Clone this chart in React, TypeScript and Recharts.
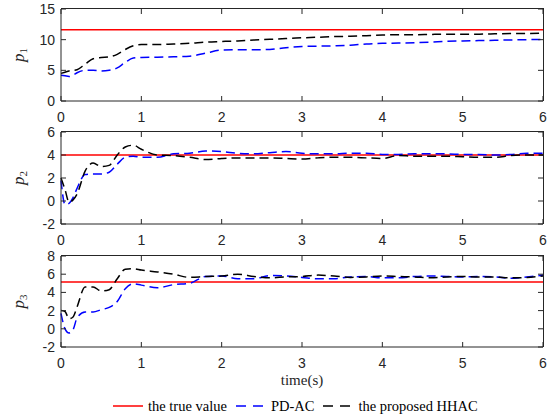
import { LineChart, Line, XAxis, YAxis, ReferenceLine } from 'recharts';

const time = [0, 0.05, 0.1, 0.15, 0.2, 0.3, 0.4, 0.5, 0.6, 0.7, 0.8, 0.9, 1.0, 1.2, 1.4, 1.6, 1.8, 2.0, 2.2, 2.4, 2.6, 2.8, 3.0, 3.2, 3.4, 3.6, 3.8, 4.0, 4.2, 4.4, 4.6, 4.8, 5.0, 5.2, 5.4, 5.6, 5.8, 6.0];
const timeTicks = [0, 1, 2, 3, 4, 5, 6];

const p1True = 11.6;
const p1Hhac = [4.5, 4.7, 4.9, 5.0, 5.1, 6.0, 6.9, 7.1, 7.2, 7.6, 8.4, 9.0, 9.2, 9.2, 9.3, 9.4, 9.6, 9.7, 9.8, 9.95, 10.05, 10.2, 10.3, 10.4, 10.5, 10.55, 10.65, 10.75, 10.8, 10.8, 10.85, 10.9, 10.9, 10.9, 10.95, 11.0, 11.0, 11.05];
const p1Pdac = [4.2, 4.1, 4.0, 4.2, 4.6, 5.0, 5.0, 4.9, 5.0, 5.4, 6.3, 7.0, 7.1, 7.15, 7.2, 7.3, 7.8, 8.3, 8.35, 8.35, 8.4, 8.7, 8.9, 8.95, 9.0, 9.1, 9.3, 9.4, 9.45, 9.5, 9.6, 9.75, 9.8, 9.85, 9.9, 9.95, 10.0, 10.05];
const p1Ticks = [0, 5, 10, 15];

const p2True = 4;
const p2Hhac = [2.0, 1.0, -0.1, 0.1, 0.6, 2.6, 3.3, 3.0, 3.1, 4.0, 4.7, 4.85, 4.5, 4.0, 3.95, 3.8, 3.6, 3.7, 3.75, 3.75, 3.75, 3.7, 3.65, 3.75, 3.8, 3.8, 3.75, 3.7, 3.95, 3.9, 3.9, 3.9, 3.85, 3.8, 3.8, 3.95, 4.0, 4.0];
const p2Pdac = [1.8, -0.3, -0.2, 0.3, 1.1, 2.3, 2.35, 2.35, 2.5, 3.2, 3.8, 3.9, 3.8, 3.8, 4.1, 4.15, 4.35, 4.3, 4.15, 4.1, 4.2, 4.3, 4.15, 4.1, 4.1, 4.15, 4.15, 4.05, 4.05, 4.1, 4.1, 4.1, 4.05, 4.05, 4.0, 4.05, 4.15, 4.15];
const p2Ticks = [-2, 0, 2, 4, 6];

const p3True = 5.15;
const p3Hhac = [2.0, 1.9, 1.1, 1.3, 2.4, 4.6, 4.6, 4.15, 4.3, 5.5, 6.55, 6.6, 6.45, 6.25, 6.0, 5.65, 5.75, 5.8, 6.0, 5.75, 5.6, 5.7, 5.75, 5.9, 5.8, 5.65, 5.7, 5.8, 5.75, 5.7, 5.6, 5.7, 5.75, 5.7, 5.7, 5.6, 5.65, 5.8];
const p3Pdac = [1.7, 0.0, -0.45, -0.1, 1.2, 1.85, 1.85, 2.1, 2.35, 3.0, 4.4, 4.95, 4.8, 4.5, 4.85, 5.0, 5.75, 5.8, 5.5, 5.5, 5.85, 5.8, 5.65, 5.5, 5.5, 5.7, 5.75, 5.6, 5.6, 5.75, 5.8, 5.75, 5.7, 5.75, 5.7, 5.55, 5.7, 5.9];
const p3Ticks = [-2, 0, 2, 4, 6, 8];

const AXIS = '#262626';
const SANS = '"Liberation Sans", Arial, sans-serif';
const SERIF = '"Liberation Serif", "Times New Roman", serif';
const DASH = '9 5';
const PLOT_LEFT = 61;
const PLOT_W = 482;

// bottom tick also draws the matching inward tick on the top edge of the box
const BottomTick = ({ x, y, payload, plotH }: any) => (
  <g>
    <path d={`M${x},${y}V${y - 5}M${x},${y - plotH}V${y - plotH + 5}`} stroke={AXIS} strokeWidth={1} fill="none" />
    <text x={x} y={y + 21} textAnchor="middle" fontSize={14} fill={AXIS} fontFamily={SANS}>
      {payload.value}
    </text>
  </g>
);

// left tick also draws the matching inward tick on the right edge
const LeftTick = ({ x, y, payload }: any) => (
  <g>
    <path d={`M${x},${y}H${x + 5}M${x + PLOT_W},${y}H${x + PLOT_W - 5}`} stroke={AXIS} strokeWidth={1} fill="none" />
    <text x={x - 6} y={y + 5} textAnchor="end" fontSize={14} fill={AXIS} fontFamily={SANS}>
      {payload.value}
    </text>
  </g>
);

const YLabel = ({ viewBox, sub }: any) => {
  const cy = viewBox.y + viewBox.height / 2;
  return (
    <text
      x={24}
      y={cy}
      transform={`rotate(-90, 24, ${cy})`}
      textAnchor="middle"
      fontFamily={SERIF}
      fontSize={17}
      fill={AXIS}
    >
      <tspan fontStyle="italic">p</tspan>
      <tspan fontSize={11} dy={3}>{sub}</tspan>
    </text>
  );
};

interface PanelProps {
  top: number;
  height: number;
  marginTop: number;
  hhac: number[];
  pdac: number[];
  trueValue: number;
  ticks: number[];
  sub: string;
}

// plot area: x 61..543, y marginTop .. height - 30
function Panel({ top, height, marginTop, hhac, pdac, trueValue, ticks, sub }: PanelProps) {
  const data = time.map((t, i) => ({ t, hhac: hhac[i], pdac: pdac[i] }));
  const domain = [ticks[0], ticks[ticks.length - 1]];
  const plotH = height - 30 - marginTop;
  return (
    <div style={{ position: 'absolute', left: 0, top, width: 553, height }}>
      <LineChart
        width={553}
        height={height}
        data={data}
        margin={{ top: marginTop, right: 10, bottom: 0, left: 16 }}
      >
        <XAxis
          dataKey="t"
          type="number"
          domain={[0, 6]}
          ticks={timeTicks}
          interval={0}
          height={30}
          tickSize={0}
          tickMargin={0}
          tickLine={false}
          axisLine={{ stroke: AXIS }}
          tick={<BottomTick plotH={plotH} />}
        />
        <YAxis
          type="number"
          domain={domain}
          ticks={ticks}
          interval={0}
          width={45}
          tickSize={0}
          tickMargin={0}
          tickLine={false}
          axisLine={{ stroke: AXIS }}
          tick={<LeftTick />}
          label={<YLabel sub={sub} />}
        />
        <ReferenceLine y={trueValue} stroke="#ff0000" strokeWidth={1.5} />
        <Line
          type="monotone"
          dataKey="pdac"
          stroke="#0000ff"
          strokeWidth={1.5}
          strokeDasharray={DASH}
          dot={false}
          isAnimationActive={false}
        />
        <Line
          type="monotone"
          dataKey="hhac"
          stroke="#000000"
          strokeWidth={1.5}
          strokeDasharray={DASH}
          dot={false}
          isAnimationActive={false}
        />
      </LineChart>
      {/* top and right edges of the axes box */}
      <div
        style={{
          position: 'absolute',
          left: PLOT_LEFT,
          top: marginTop - 1,
          width: PLOT_W + 1,
          height: plotH + 1,
          boxSizing: 'border-box',
          borderTop: `1px solid ${AXIS}`,
          borderRight: `1px solid ${AXIS}`,
          pointerEvents: 'none',
        }}
      />
    </div>
  );
}

const LegendItem = ({ color, dashed, label }: { color: string; dashed: boolean; label: string }) => (
  <div style={{ display: 'flex', alignItems: 'center', gap: 5 }}>
    <svg width={30} height={6}>
      <line x1={0} x2={30} y1={3} y2={3} stroke={color} strokeWidth={1.5} strokeDasharray={dashed ? '10 7' : undefined} />
    </svg>
    <span>{label}</span>
  </div>
);

export default function App() {
  return (
    <div style={{ position: 'fixed', left: 0, top: 0, width: 553, height: 418, background: '#fff', overflow: 'hidden' }}>
      <Panel top={0} height={131} marginTop={9} hhac={p1Hhac} pdac={p1Pdac} trueValue={p1True} ticks={p1Ticks} sub="1" />
      <Panel top={125} height={129} marginTop={7} hhac={p2Hhac} pdac={p2Pdac} trueValue={p2True} ticks={p2Ticks} sub="2" />
      <Panel top={249} height={128} marginTop={7} hhac={p3Hhac} pdac={p3Pdac} trueValue={p3True} ticks={p3Ticks} sub="3" />
      <div
        style={{
          position: 'absolute',
          left: 61,
          width: 482,
          top: 373,
          textAlign: 'center',
          fontFamily: SERIF,
          fontSize: 15,
          lineHeight: '15px',
          color: AXIS,
        }}
      >
        time(s)
      </div>
      <div
        style={{
          position: 'absolute',
          left: 113,
          top: 397,
          display: 'flex',
          alignItems: 'center',
          gap: 9,
          fontFamily: SERIF,
          fontSize: 14.5,
          lineHeight: '18px',
          color: '#000',
          whiteSpace: 'nowrap',
        }}
      >
        <LegendItem color="#ff0000" dashed={false} label="the true value" />
        <LegendItem color="#0000ff" dashed={true} label="PD-AC" />
        <LegendItem color="#000000" dashed={true} label="the proposed HHAC" />
      </div>
    </div>
  );
}
